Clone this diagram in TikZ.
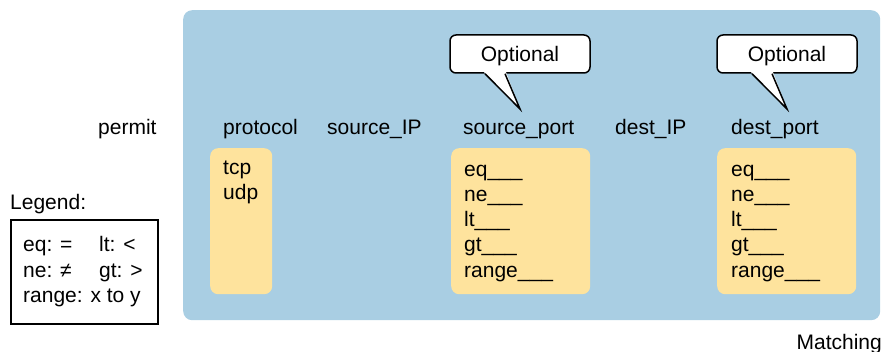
\documentclass[tikz,border=0pt]{standalone}
\usepackage{fontspec}
\setmainfont{Liberation Sans}
\usetikzlibrary{calc}
\definecolor{bluebg}{RGB}{169,206,227}
\definecolor{yel}{RGB}{254,227,157}
\begin{document}
\begin{tikzpicture}[x=1pt,y=-1pt,font=\fontsize{21}{25}\selectfont,
  lbl/.style={anchor=base west,inner sep=0},
  ybox/.style={fill=yel,rounded corners=8,anchor=north west,inner sep=0,minimum height=146},
  callbox/.style={draw=black,fill=white,line width=1.5,rounded corners=6,minimum width=140,minimum height=38,inner sep=0,text height=15,text depth=0},
  pointer/.style={draw=black,line width=1.5,line join=miter}]
\useasboundingbox (0,0) rectangle (882,352);
% background panel
\node[fill=bluebg,rounded corners=9,anchor=north west,inner sep=0,minimum width=697,minimum height=310] (bg) at (183,10) {};
% header labels
\node[lbl] (permit) at (98,135) {permit};
\node[lbl] (protocol) at (223,135) {protocol};
\node[lbl] (srcip) at (327,135) {source\_IP};
\node[lbl] (srcport) at (463,135) {source\_port};
\node[lbl] (dstip) at (615,135) {dest\_IP};
\node[lbl] (dstport) at (731,135) {dest\_port};
% yellow boxes
\node[ybox,minimum width=62] (protobox) at (210,148) {};
\node[ybox,minimum width=139] (spbox) at (451,148) {};
\node[ybox,minimum width=139] (dpbox) at (717,148) {};
\node[lbl] (tcp) at (223,175) {tcp};
\node[lbl] (udp) at (223,200) {udp};
\foreach \t [count=\i] in {eq,ne,lt,gt,range} {
  \node[lbl] (sp\i) at (464,{152+25*\i}) {\t\_\_\_};
  \node[lbl] (dp\i) at (731,{152+25*\i}) {\t\_\_\_};
}
% callouts
\coordinate (tip1) at (520,109);
\coordinate (tip2) at (787,109);
\node[callbox] (opt1) at (520,54) {Optional};
\node[callbox] (opt2) at (787,54) {Optional};
\fill[white] ($(opt1.south)+(-36,-1.5)$) -- (tip1) -- ($(opt1.south)+(-14,-1.5)$) -- cycle;
\draw[pointer] ($(opt1.south)+(-35,0)$) -- (tip1) -- ($(opt1.south)+(-15,0)$);
\fill[white] ($(opt2.south)+(-36,-1.5)$) -- (tip2) -- ($(opt2.south)+(-14,-1.5)$) -- cycle;
\draw[pointer] ($(opt2.south)+(-35,0)$) -- (tip2) -- ($(opt2.south)+(-15,0)$);
% legend
\node[lbl] (legend) at (10,210) {Legend:};
\node[draw=black,line width=2,anchor=north west,inner sep=0,minimum width=147,minimum height=104] (legbox) at (10,219) {};
\node[lbl] (leq) at (23,252) {eq: =};
\node[lbl] (llt) at (99,252) {lt: <};
\node[lbl] (lne) at (23,277) {ne: ≠};
\node[lbl] (lgt) at (99,277) {gt: >};
\node[lbl] (lrange) at (23,302) {range: x to y};
% caption
\node[anchor=base east,inner sep=0] (matching) at (882,349) {Matching};
\end{tikzpicture}
\end{document}
